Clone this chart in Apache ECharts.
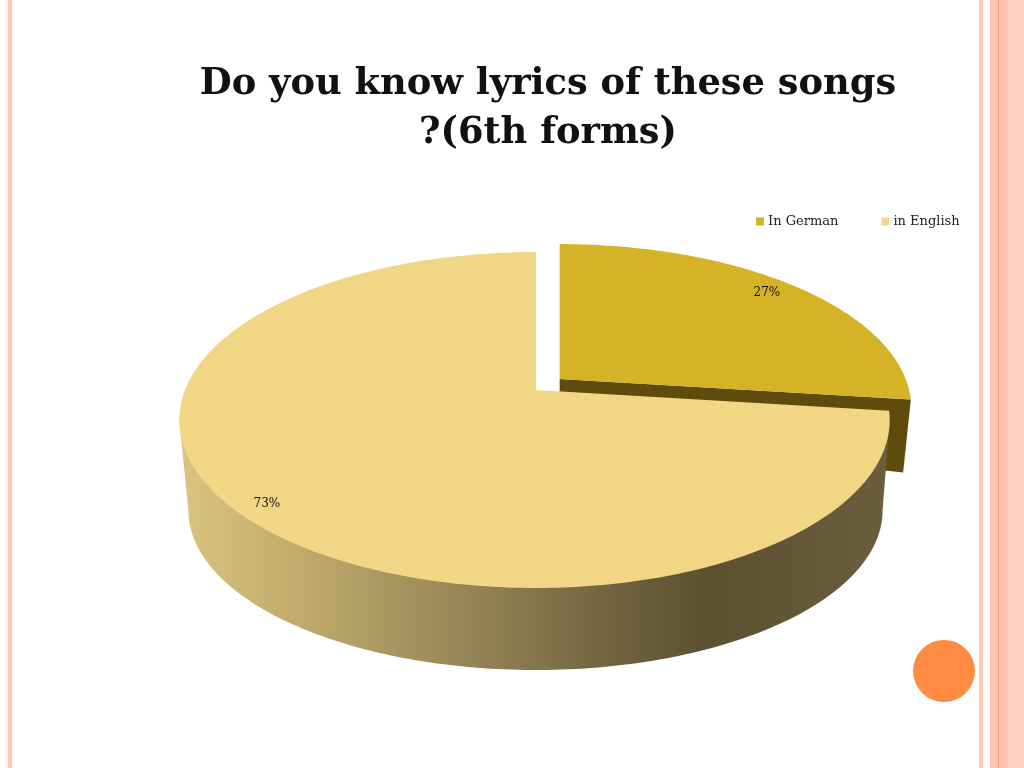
<!DOCTYPE html>
<html><head><meta charset="utf-8">
<style>html,body{margin:0;padding:0;background:#fff}#c{width:1024px;height:768px}</style>
<script src="https://cdn.jsdelivr.net/npm/echarts@6/dist/echarts.min.js"></script>
</head><body><div id="c"></div>
<script>
const categories = ['In German', 'in English'];
const values = [27, 73];
const titleLines = ['Do you know lyrics of these songs', '?(6th forms)'];

const total = values.reduce((a, b) => a + b, 0);
const PERSP = 0.1786;
// Projection of a tilted disc for each slice: top face and bottom face
const geom = [
  { top: { x: 559.7, y: 379, b: 346, bl: 346, a: 159 }, low: { x: 559.7, y: 434, b: 338.4, bl: 338.4, a: 300 }, f: 0.9, lab: [-4, -1] },
  { top: { x: 536, y: 390, b: 348, bl: 351, a: 162.6 }, low: { x: 536, y: 481.9, b: 341, bl: 342, a: 154.5 }, f: 0.93, lab: [6, 2] }
];
const project = (m, t, f) => {
  const r = f === undefined ? 1 : f;
  const u = Math.sin(t) * r, v = -Math.cos(t) * r, w = 1 - PERSP * v;
  return [m.x + (u < 0 ? m.bl : m.b) * u / w, m.y + m.a * v / w];
};
const arc = (m, t0, t1) => {
  const n = Math.max(2, Math.ceil(Math.abs(t1 - t0) * 60)), out = [];
  for (let i = 0; i <= n; i++) out.push(project(m, t0 + (t1 - t0) * i / n));
  return out;
};
const angleOf = i => values.slice(0, i).reduce((a, b) => a + b, 0) / total * Math.PI * 2;
const SIDE = Math.acos(-PERSP);

const topColors = ['#D4B326', '#F1D785'];
const wallGradient = new echarts.graphic.LinearGradient(188, 0, 882, 0, [
  { offset: 0, color: '#D8C27E' },
  { offset: 0.16, color: '#BFAB6B' },
  { offset: 0.38, color: '#9A8958' },
  { offset: 0.58, color: '#766843' },
  { offset: 0.75, color: '#5C5032' },
  { offset: 1, color: '#6A5E3E' }
], true);

function renderSlice(i) {
  return function (params, api) {
    const t0 = angleOf(i), t1 = t0 + api.value(0) / total * Math.PI * 2, g = geom[i];
    const children = [];
    if (i === 0) {
      children.push({ type: 'polygon', shape: { points: [
        [g.top.x, g.top.y], project(g.top, t1), project(g.low, t1), [g.low.x, g.low.y]
      ] }, style: { fill: '#5F4C0C' } });
    } else {
      const a = Math.max(t0, SIDE), b = Math.min(t1, Math.PI * 2 - SIDE);
      children.push({ type: 'polygon', shape: { points: [project(g.top, a)].concat(arc(g.low, a, b), [project(g.top, b)]) },
        style: { fill: wallGradient } });
    }
    children.push({ type: 'polygon', shape: { points: [[g.top.x, g.top.y]].concat(arc(g.top, t0, t1)) },
      style: { fill: topColors[i] } });
    const mid = project(g.top, (t0 + t1) / 2, g.f);
    children.push({ type: 'text', style: { text: Math.round(api.value(0) / total * 100) + '%', x: mid[0] + g.lab[0], y: mid[1] + g.lab[1],
      fill: '#111', font: '12px "DejaVu Serif"', align: 'center', verticalAlign: 'middle' } });
    return { type: 'group', children };
  };
}

const bands = [
  [5, 3, '#FFEDE6'], [8, 4, '#FFC7B5'],
  [979, 4, '#FFC9B8'], [990, 8, '#FFC5B2'], [998, 1.5, '#F5996F'], [999.5, 9, '#FFC5B2'], [1008, 16, '#FFCFBF']
];

const chart = echarts.init(document.getElementById('c'), null, { renderer: 'canvas' });
chart.setOption({
  animation: false,
  backgroundColor: '#fff',
  title: {
    text: titleLines.join('\n'), left: 543, top: 55, textAlign: 'center',
    textStyle: { fontFamily: 'DejaVu Serif', fontWeight: 'bold', fontSize: 36.8, lineHeight: 49, color: '#111' }
  },
  legend: {
    left: 756, top: 215, padding: 0, itemWidth: 8, itemHeight: 8, itemGap: 43, icon: 'rect',
    data: categories,
    textStyle: { fontFamily: 'DejaVu Serif', fontSize: 13, color: '#222', padding: [0, 0, 0, -1] }
  },
  graphic: bands.map(b => ({ type: 'rect', silent: true, shape: { x: b[0], y: 0, width: b[1], height: 768 }, style: { fill: b[2] } }))
    .concat([{ type: 'circle', silent: true, shape: { cx: 944, cy: 671, r: 31 }, style: { fill: '#FF8C42' } }]),
  series: categories.map((name, i) => ({
    type: 'custom', name, coordinateSystem: 'none', z: 2 + i,
    itemStyle: { color: topColors[i] },
    data: [[values[i]]],
    renderItem: renderSlice(i)
  }))
});
</script></body></html>
